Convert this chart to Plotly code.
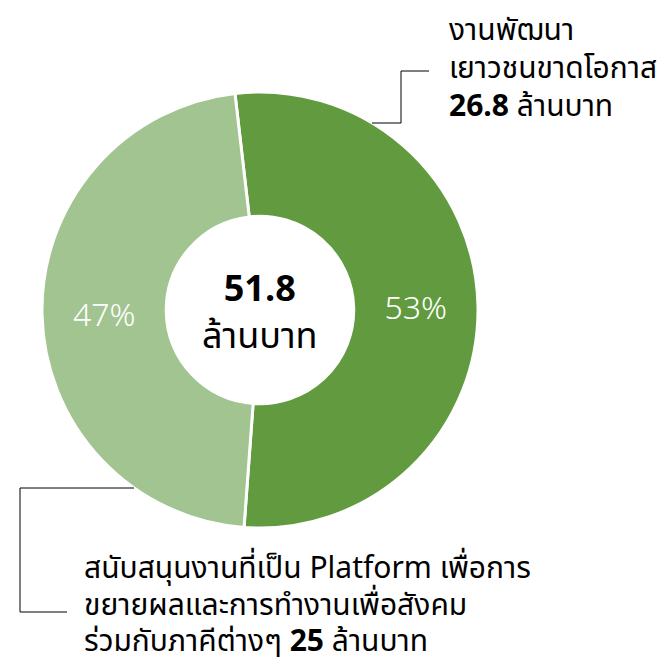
import plotly.graph_objects as go

W, H = 671, 659

categories = ["งานพัฒนาเยาวชนขาดโอกาส", "สนับสนุนงานที่เป็น Platform เพื่อการขยายผลและการทำงานเพื่อสังคมร่วมกับภาคีต่างๆ"]
shares = [53, 47]
amounts = [26.8, 25]
total = 51.8
unit = "ล้านบาท"
label_lines_a = ["งานพัฒนา", "เยาวชนขาดโอกาส"]
label_lines_b = ["สนับสนุนงานที่เป็น Platform เพื่อการ", "ขยายผลและการทำงานเพื่อสังคม", "ร่วมกับภาคีต่างๆ"]
colors = ["#629A3F", "#A1C490"]

FONT = "Noto Sans Thai, Noto Sans, Liberation Sans, sans-serif"

def px(x):
    return x / W

def py(y):
    return 1 - y / H

fig = go.Figure()
fig.add_trace(go.Pie(
    labels=categories,
    values=shares,
    text=[f"{s}%" for s in shares],
    texttemplate="%{text}",
    textinfo="text",
    textposition="inside",
    insidetextorientation="horizontal",
    insidetextfont=dict(color="white", size=32, family="Noto Sans Thai Light, Noto Sans Light, Noto Sans, sans-serif", weight=300),
    hole=0.43,
    sort=False,
    direction="clockwise",
    rotation=-6.6,
    marker=dict(colors=colors, line=dict(color="white", width=3)),
    domain=dict(x=[px(34), px(470)], y=[py(520), py(84)]),
    showlegend=False,
    hoverinfo="label+value",
))

annotations = [
    dict(x=px(252), y=py(306), xref="paper", yref="paper", xanchor="center", yanchor="middle",
         text=f"<b>{total}</b><br>{unit}", showarrow=False,
         font=dict(size=36, color="black", family=FONT), align="center"),
]

lines_a = label_lines_a + [f"<b>{amounts[0]}</b> {unit}"]
for txt, yy in zip(lines_a, [23, 61, 99]):
    annotations.append(dict(x=px(439), y=py(yy), xref="paper", yref="paper", xanchor="left",
                            yanchor="middle", text=txt, showarrow=False,
                            font=dict(size=30, color="black", family=FONT), align="left"))

lines_b = label_lines_b[:2] + [f"{label_lines_b[2]} <b>{amounts[1]:g}</b> {unit}"]
for txt, yy in zip(lines_b, [561, 598, 634]):
    annotations.append(dict(x=px(74), y=py(yy), xref="paper", yref="paper", xanchor="left",
                            yanchor="middle", text=txt, showarrow=False,
                            font=dict(size=30, color="black", family=FONT), align="left"))

line_style = dict(color="black", width=1)
shapes = [
    dict(type="path", xref="paper", yref="paper",
         path=f"M {px(364)},{py(115)} L {px(393)},{py(115)} L {px(393)},{py(63)} L {px(421)},{py(63)}",
         line=line_style),
    dict(type="path", xref="paper", yref="paper",
         path=f"M {px(126)},{py(480)} L {px(12)},{py(480)} L {px(12)},{py(604)} L {px(59)},{py(604)}",
         line=line_style),
]

fig.update_layout(
    width=W, height=H,
    margin=dict(l=0, r=0, t=0, b=0),
    paper_bgcolor="white", plot_bgcolor="white",
    annotations=annotations, shapes=shapes,
    font=dict(family=FONT),
)

fig.write_html("out.html")
